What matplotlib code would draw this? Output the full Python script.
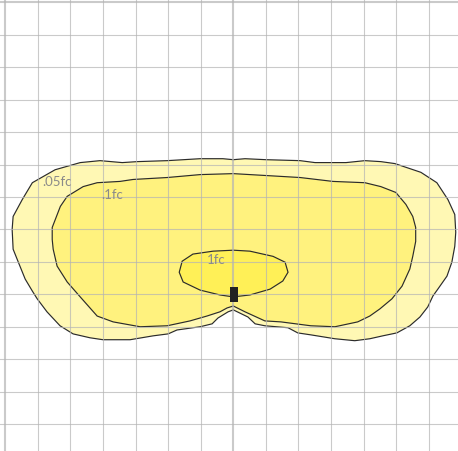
import numpy as np
import matplotlib.pyplot as plt
from matplotlib.patches import Polygon, Rectangle

# isofootcandle contours, grid units (one cell) from the luminaire
fc005_x = [-6.79, -6.76, -6.48, -6.17, -5.47, -4.70, -4.09, -3.41, -2.95, -2.03, -1.02, -0.32, 0.00, 0.36,
           1.00, 2.05, 2.51, 3.46, 4.04, 4.53, 4.96, 5.76, 6.25, 6.59, 6.80, 6.83, 6.80, 6.71, 6.56, 6.28,
           6.13, 5.97, 5.73, 5.42, 5.02, 4.59, 4.19, 3.73, 3.12, 2.38, 1.98, 1.68, 0.97, 0.67, 0.45, 0.00,
           -0.16, -0.47, -0.65, -1.02, -1.73, -2.00, -2.46, -3.17, -4.00, -4.40, -4.92, -5.32, -5.72, -6.02,
           -6.17, -6.39, -6.60, -6.76]
fc005_y = [2.00, 2.40, 2.92, 3.44, 3.84, 4.06, 4.12, 4.06, 4.09, 4.12, 4.18, 4.18, 4.15, 4.18,
           4.15, 4.12, 4.06, 4.06, 4.12, 4.09, 4.03, 3.76, 3.44, 2.92, 2.46, 1.91, 1.48, 0.99, 0.56, 0.16,
           -0.05, -0.39, -0.70, -0.97, -1.19, -1.28, -1.37, -1.43, -1.37, -1.25, -1.19, -1.03, -0.97, -0.91, -0.70, -0.48,
           -0.54, -0.73, -0.91, -1.00, -1.10, -1.22, -1.28, -1.40, -1.40, -1.34, -1.22, -0.97, -0.54, -0.14,
           0.10, 0.47, 0.99, 1.39]

fc01_x = [-5.56, -5.56, -5.31, -5.10, -4.61, -4.18, -3.48, -3.08, -2.03, -1.02, 0.00, 1.03, 2.05, 3.06,
          4.04, 4.53, 4.99, 5.30, 5.51, 5.60, 5.60, 5.51, 5.42, 5.18, 4.87, 4.50, 4.19, 3.82, 3.12, 2.38,
          1.46, 0.97, 0.36, 0.00, -0.19, -0.41, -0.81, -1.33, -2.03, -2.86, -3.69, -4.18, -4.70, -5.10,
          -5.41, -5.53]
fc01_y = [1.69, 2.06, 2.71, 3.02, 3.32, 3.44, 3.48, 3.54, 3.60, 3.69, 3.72, 3.66, 3.60, 3.48,
          3.44, 3.32, 3.14, 2.77, 2.40, 2.06, 1.63, 1.17, 0.78, 0.25, -0.14, -0.45, -0.67, -0.85, -1.00, -0.97,
          -0.85, -0.82, -0.54, -0.36, -0.42, -0.54, -0.67, -0.82, -0.97, -1.00, -0.85, -0.67, -0.08, 0.38,
          0.87, 1.39]

fc1_x = [-1.66, -1.57, -1.24, -0.62, 0.00, 0.51, 1.22, 1.59, 1.68, 1.52, 1.13, 0.51, 0.00, -0.41, -1.02, -1.54]
fc1_y = [0.68, 1.02, 1.24, 1.33, 1.36, 1.33, 1.17, 0.99, 0.68, 0.41, 0.16, -0.02, -0.08, -0.02, 0.13, 0.38]

labels = ['.05fc', '.1fc', '1fc']
label_x = [-5.87, -4.06, -0.81]
label_y = [3.48, 3.08, 1.08]
fills = ['#fff8b4', '#fff27e', '#fff057']

fig = plt.figure(figsize=(4.58, 4.52), dpi=100)
ax = fig.add_axes([0, 0, 1, 1])
ax.set_xlim(-7.163, 6.899)
ax.set_ylim(-4.83, 9.103)
ax.axis('off')

for xs, ys, c in zip([fc005_x, fc01_x, fc1_x], [fc005_y, fc01_y, fc1_y], fills):
    ax.add_patch(Polygon(np.column_stack([xs, ys]), closed=True, facecolor=c,
                         edgecolor='#2b2b2b', linewidth=0.85, zorder=2))

# grid on top, slightly see-through
for gx in range(-7, 8):
    thick = gx in (-7, 0)
    ax.axvline(gx, color='#b4b4b4', lw=1.5 if thick else 0.8, alpha=0.7, zorder=3)
for gy in range(-4, 10):
    thick = gy == 9
    ax.axhline(gy, color='#b4b4b4', lw=1.5 if thick else 0.8, alpha=0.7, zorder=3)

# luminaire
ax.add_patch(Rectangle((-0.10, -0.24), 0.25, 0.46, facecolor='#222222', edgecolor='none', zorder=4))

for t, x, y in zip(labels, label_x, label_y):
    ax.text(x, y, t, fontsize=9.5, color='#8a8a8a', family='Lato', va='center', ha='left', zorder=5)

fig.savefig('out.png', dpi=100)
